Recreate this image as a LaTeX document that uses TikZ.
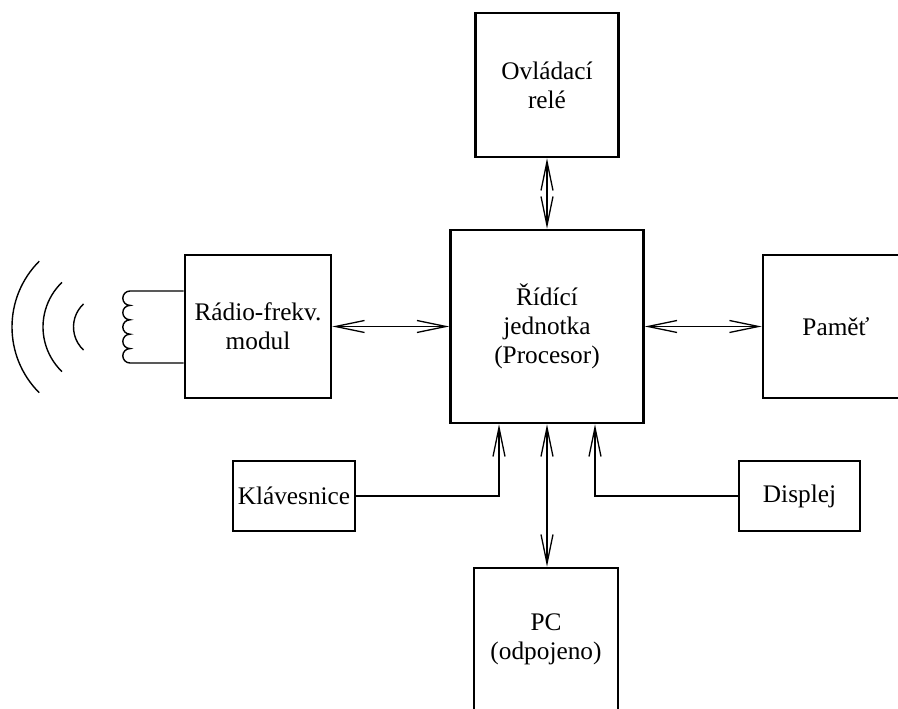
\documentclass[tikz,border=0pt]{standalone}
\usepackage{fontspec}
\setmainfont{Liberation Serif}
\usetikzlibrary{arrows.meta}
\begin{document}
\begin{tikzpicture}[x=1pt,y=1pt,
  box/.style={draw, line width=2.6pt, align=center, inner sep=0pt,
    font=\fontsize{25.3}{29}\selectfont},
  >={Straight Barb[length=29pt,width=12pt,line width=1.3pt]},
  arr/.style={line width=1.3pt, ->},
  darr/.style={line width=1.3pt, <->},
  wire/.style={line width=1.4pt}
]
\useasboundingbox (0,0) rectangle (898,709);
\clip (0,0) rectangle (898,709);

\node[box, minimum width=143pt, minimum height=144pt] (relay) at (547,624) {Ovládací\\relé};
\node[box, minimum width=193pt, minimum height=193pt] (main) at (547,382.5) {Řídící\\jednotka\\(Procesor)};
\node[box, minimum width=146pt, minimum height=143pt] (radio) at (258,382.5) {Rádio-frekv.\\modul};
\node[box, minimum width=146pt, minimum height=143pt] (mem) at (836,382.5) {Paměť};
\node[box, minimum width=122pt, minimum height=70pt] (kbd) at (294,213) {Klávesnice};
\node[box, minimum width=121pt, minimum height=70pt] (disp) at (799.5,213) {Displej};
\node[box, minimum width=144pt, minimum height=143pt] (pc) at (546,69.5) {PC\\(odpojeno)};

\coordinate (kx) at (499,0);
\coordinate (dx) at (595,0);
\coordinate (cy1) at (0,418);
\coordinate (cy2) at (0,346);
\coordinate (coiltop) at (130,418);

\draw[darr] (relay.south) -- (main.north);
\draw[darr] (radio.east) -- (main.west);
\draw[darr] (main.east) -- (mem.west);
\draw[darr] (main.south) -- (main.south |- pc.north);
\draw[arr] (kbd.east) -| (kx |- main.south);
\draw[arr] (disp.west) -| (dx |- main.south);

% coil
\draw[wire] (radio.west |- cy1) -- (coiltop)
  arc(90:270:7.2pt) arc(90:270:7.2pt) arc(90:270:7.2pt)
  arc(90:270:7.2pt) arc(90:270:7.2pt) -- (radio.west |- cy2);

% waves
\coordinate (wc) at (105,382);
\draw[wire] (wc) ++(135:93pt) arc(135:225:93pt);
\draw[wire] (wc) ++(134:62pt) arc(134:226:62pt);
\draw[wire] (wc) ++(133:31.5pt) arc(133:227:31.5pt);
\end{tikzpicture}
\end{document}
